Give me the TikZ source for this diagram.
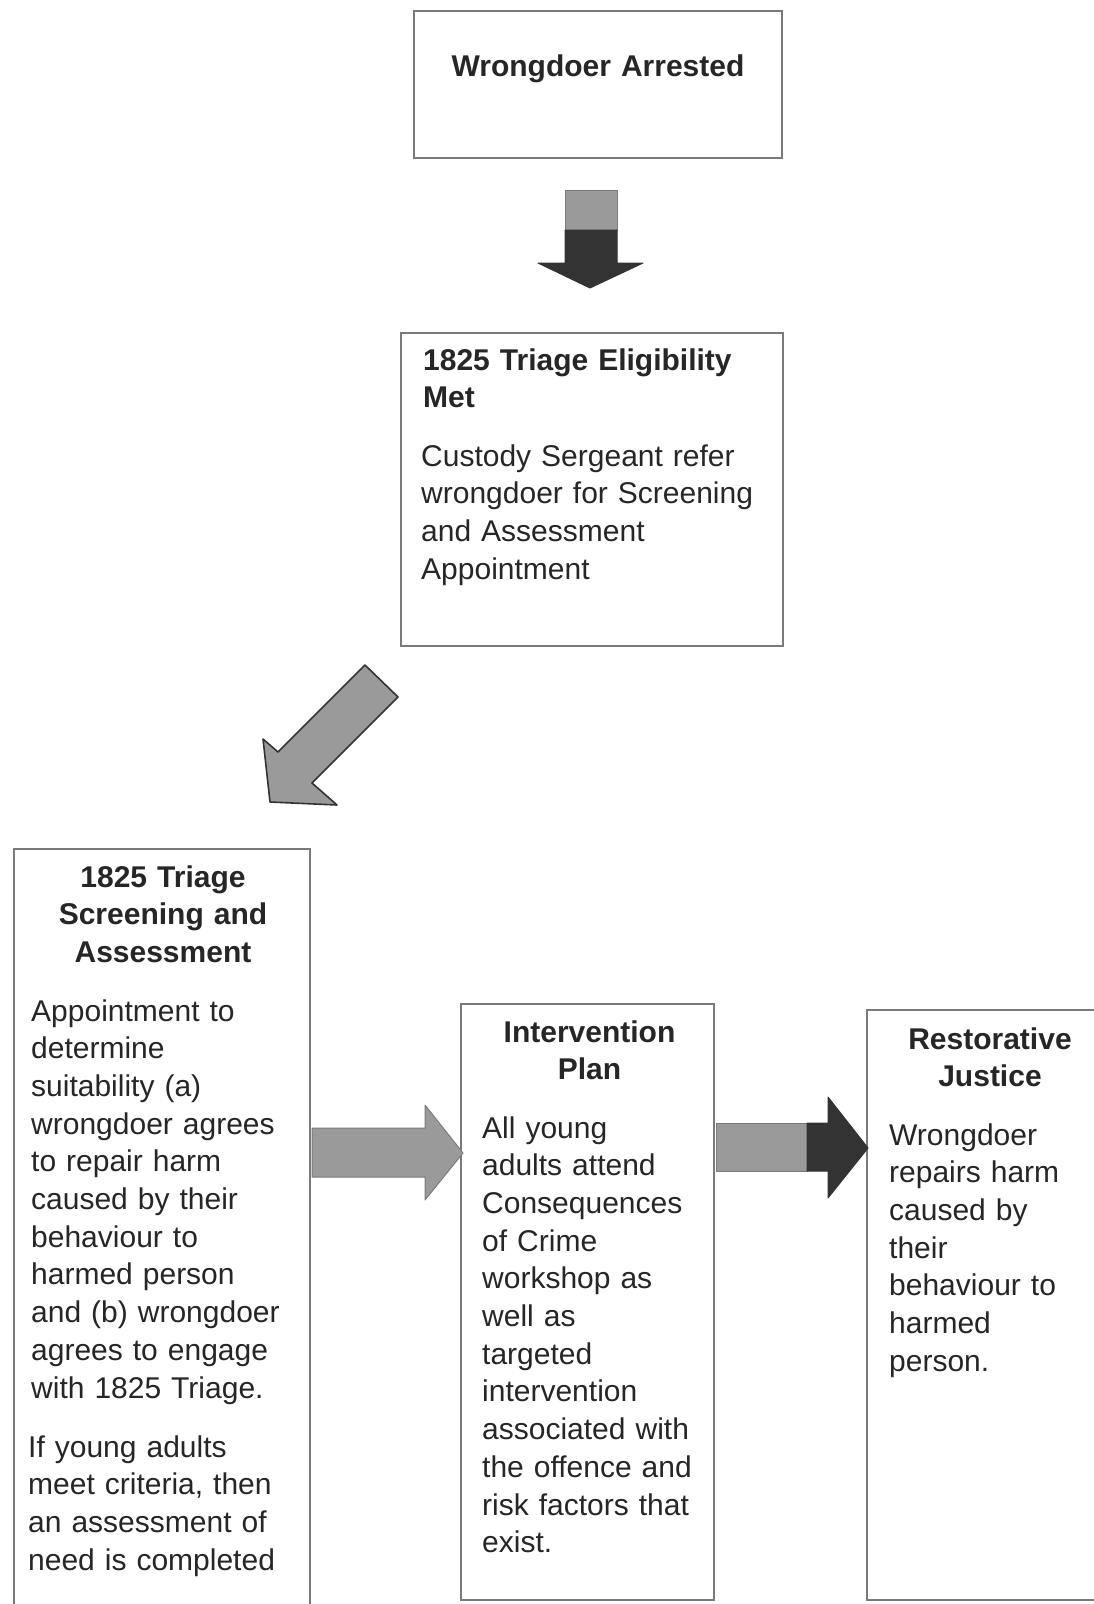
\documentclass[tikz,border=0pt]{standalone}
\usepackage{fontspec}
\setmainfont{Liberation Sans}
\definecolor{txt}{HTML}{262626}
\definecolor{edge}{HTML}{7A7A7A}
\definecolor{lightfill}{HTML}{9A9A9A}
\definecolor{darkfill}{HTML}{333333}
\tikzset{
  box/.style={draw=edge, line width=1.6pt, fill=white},
  head/.style={text=txt, font=\fontsize{30}{37.7}\selectfont\bfseries, inner sep=0pt, text width=400pt, align=center, anchor=base},
  body/.style={text=txt, font=\fontsize{30}{37.7}\selectfont, inner sep=0pt, text width=400pt, align=left, anchor=base west},
  lightarrow/.style={fill=lightfill, draw=edge, line width=1pt, line join=round},
  darkarrow/.style={fill=darkfill, draw=darkfill, line width=1pt, line join=round}
}
\begin{document}
\begin{tikzpicture}[x=1pt,y=-1pt]
\useasboundingbox (0,0) rectangle (1094,1604);
\clip (0,0) rectangle (1094,1604);
% boxes
\draw[box] (414,11) rectangle (782,158);
\node[inner sep=0pt, minimum width=368pt, minimum height=147pt] (arrested) at (598,84.5) {};
\draw[box] (401,333) rectangle (783,646);
\node[inner sep=0pt, minimum width=382pt, minimum height=313pt] (eligible) at (592,489.5) {};
\draw[box] (14,849) rectangle (310,1620);
\node[inner sep=0pt, minimum width=296pt, minimum height=771pt] (screening) at (162,1234.5) {};
\draw[box] (461,1004) rectangle (714,1600);
\node[inner sep=0pt, minimum width=253pt, minimum height=596pt] (plan) at (587.5,1302) {};
\draw[box] (867,1010) rectangle (1110,1600);
\node[inner sep=0pt, minimum width=243pt, minimum height=590pt] (justice) at (988.5,1305) {};
% texts
\node[head] (t1) at (598,76) {Wrongdoer Arrested};
\node[head, align=left, anchor=base west] (t2) at (423,370) {1825 Triage Eligibility\\Met};
\node[body] (t3) at (421,466) {Custody Sergeant refer\\wrongdoer for Screening\\and Assessment\\Appointment};
\node[head] (t4) at (163,887) {1825 Triage\\Screening and\\Assessment};
\node[body] (t5) at (31,1021) {Appointment to\\determine\\suitability (a)\\wrongdoer agrees\\to repair harm\\caused by their\\behaviour to\\harmed person\\and (b) wrongdoer\\agrees to engage\\with 1825 Triage.};
\node[body] (t6) at (28,1457) {If young adults\\meet criteria, then\\an assessment of\\need is completed};
\node[head] (t7) at (589.5,1042) {Intervention\\Plan};
\node[body] (t8) at (482,1138) {All young\\adults attend\\Consequences\\of Crime\\workshop as\\well as\\targeted\\intervention\\associated with\\the offence and\\risk factors that\\exist.};
\node[head] (t9) at (990,1049) {Restorative\\Justice};
\node[body] (t10) at (889,1145) {Wrongdoer\\repairs harm\\caused by\\their\\behaviour to\\harmed\\person.};
% arrow 1 (down)
\draw[lightarrow] (565,190) rectangle (617,230);
\draw[darkarrow] (565,230) -- (617,230) -- (617,263) -- (643,263) -- (590,288) -- (538,263) -- (565,263) -- cycle;
% arrow 2 (diagonal)
\draw[lightarrow, draw=darkfill, line width=1.6pt] (365,665) -- (398,697) -- (312,783) -- (337,805) -- (270,802) -- (263,739) -- (278,752) -- cycle;
% arrow 3 (right)
\draw[lightarrow] (312,1128) -- (425,1128) -- (425,1105) -- (463,1153) -- (425,1200) -- (425,1177) -- (312,1177) -- cycle;
% arrow 4 (right, two-tone)
\draw[lightarrow] (716,1123) rectangle (807,1171);
\draw[darkarrow] (807,1123) -- (828,1123) -- (828,1097) -- (868,1148) -- (828,1198) -- (828,1171) -- (807,1171) -- cycle;
\end{tikzpicture}
\end{document}
